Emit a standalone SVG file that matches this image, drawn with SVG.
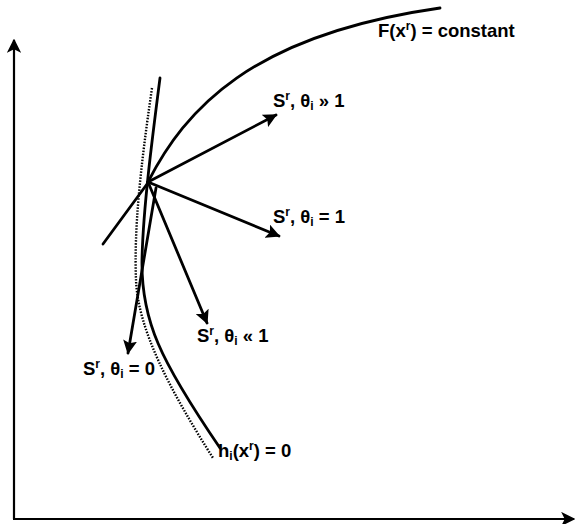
<svg xmlns="http://www.w3.org/2000/svg" width="576" height="524" viewBox="0 0 576 524">
<style>
.ln{fill:none;stroke:#000;stroke-width:2.8;stroke-linecap:round}
.ax{fill:none;stroke:#000;stroke-width:2.2}
.dot{fill:none;stroke:#000;stroke-width:2.4;stroke-dasharray:1.5 1.5}
.t{font-family:"Liberation Sans",Arial,sans-serif;font-weight:bold;font-size:18.5px;fill:#000}
.s{font-size:12px}
</style>
<defs>
<marker id="ah" viewBox="0 0 10 10" refX="9" refY="5" markerWidth="5" markerHeight="5" orient="auto" markerUnits="strokeWidth">
<path d="M0,0 L10,5 L0,10 L2,5 z" fill="#000"/>
</marker>
<marker id="axh" viewBox="0 0 10 10" refX="9" refY="5" markerWidth="6.5" markerHeight="6.5" orient="auto" markerUnits="strokeWidth">
<path d="M0,0 L10,5 L0,10 L2.5,5 z" fill="#000"/>
</marker>
</defs>
<g id="axes">
<path class="ax" d="M14,519 L14,40" marker-end="url(#axh)"/>
<path class="ax" d="M13,519 L574,519" marker-end="url(#axh)"/>
</g>
<g id="curves">
<path id="F-curve" class="ln" d="M148,182 C185,110 250,35 440,8"/>
<path id="h-curve" class="ln" d="M160,78 C152,140 143,210 142,260 C141,320 160,360 220,448"/>
<path id="dotted-curve" class="dot" d="M152,88 C140,170 134,230 136,280 C138,330 170,390 213,458"/>
<path id="tangent" class="ln" d="M103,244 L150,180"/>
</g>
<g id="connectors">
<path class="ln" d="M148,182 L276,115" marker-end="url(#ah)"/>
<path class="ln" d="M148,182 L279,236" marker-end="url(#ah)"/>
<path class="ln" d="M148,182 L207,323" marker-end="url(#ah)"/>
<path class="ln" d="M156,188 L128,353" marker-end="url(#ah)"/>
</g>
<g id="labels">
<text class="t" x="378" y="37">F(x<tspan class="s" dy="-7">r</tspan><tspan dy="7">) = constant</tspan></text>
<text class="t" x="273" y="107">S<tspan class="s" dy="-7">r</tspan><tspan dy="7">, θ</tspan><tspan class="s" dy="3">i</tspan><tspan dy="-3"> » 1</tspan></text>
<text class="t" x="273" y="223">S<tspan class="s" dy="-7">r</tspan><tspan dy="7">, θ</tspan><tspan class="s" dy="3">i</tspan><tspan dy="-3"> = 1</tspan></text>
<text class="t" x="197" y="342">S<tspan class="s" dy="-7">r</tspan><tspan dy="7">, θ</tspan><tspan class="s" dy="3">i</tspan><tspan dy="-3"> « 1</tspan></text>
<text class="t" x="83" y="375">S<tspan class="s" dy="-7">r</tspan><tspan dy="7">, θ</tspan><tspan class="s" dy="3">i</tspan><tspan dy="-3"> = 0</tspan></text>
<text class="t" x="218" y="457">h<tspan class="s" dy="3">i</tspan><tspan dy="-3">(x</tspan><tspan class="s" dy="-7">r</tspan><tspan dy="7">) = 0</tspan></text>
</g>
</svg>
